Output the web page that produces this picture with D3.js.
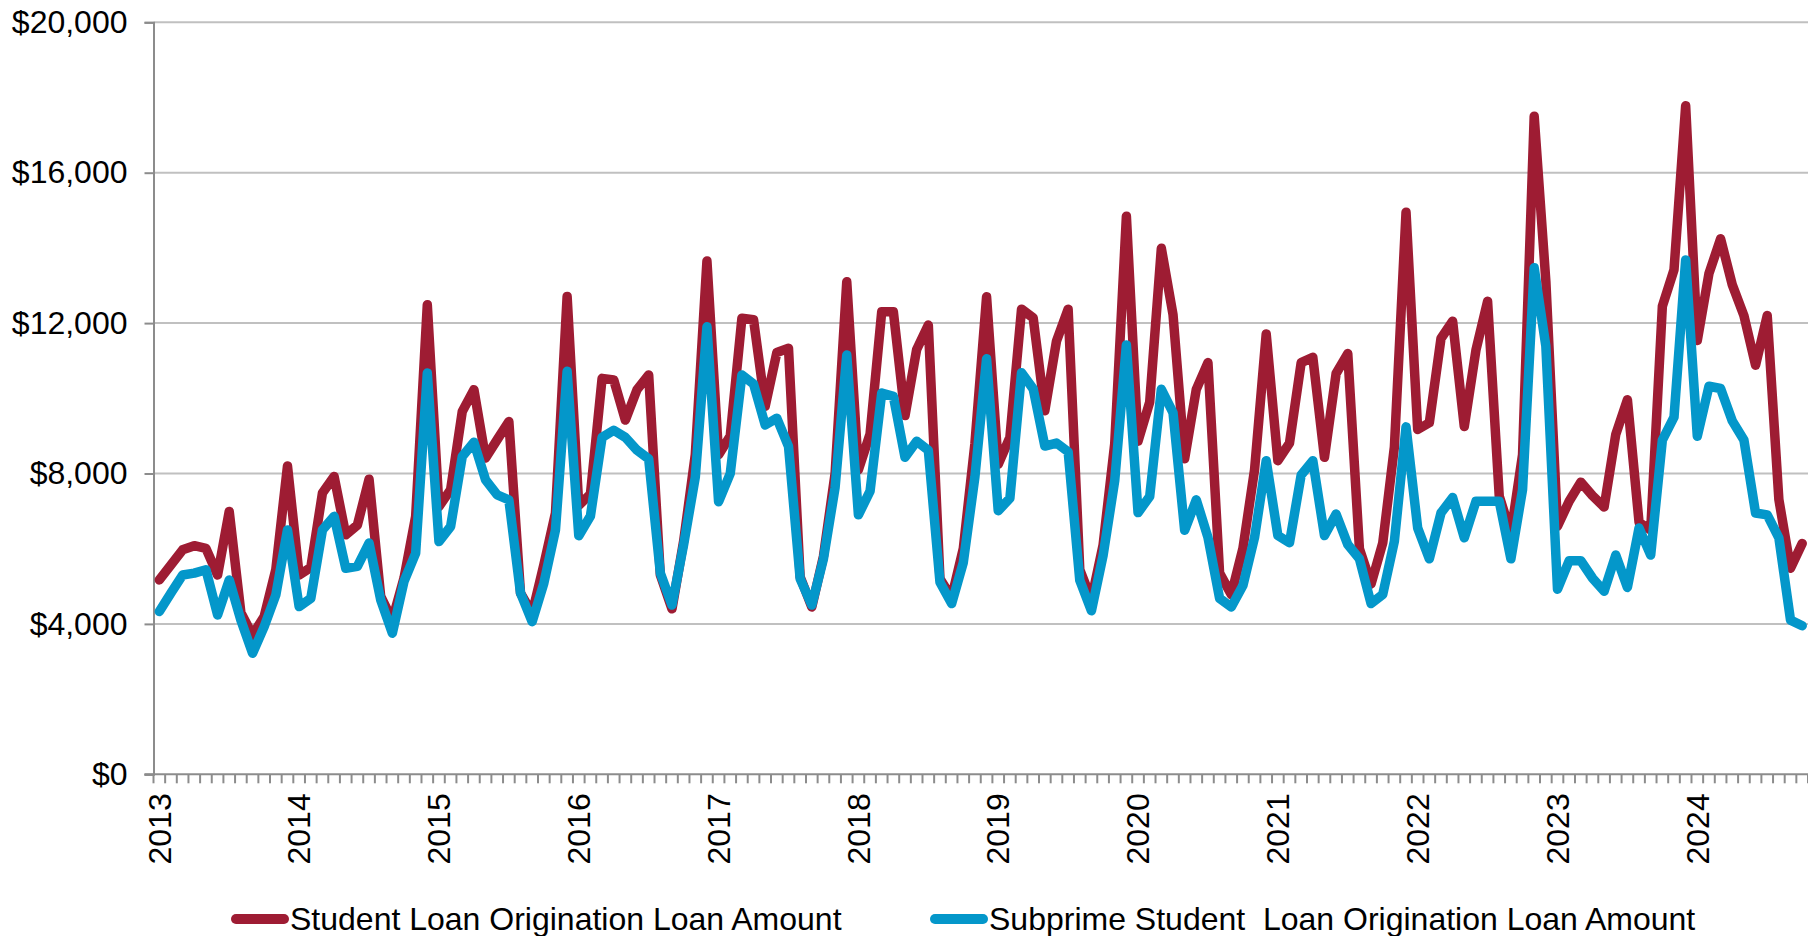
<!DOCTYPE html>
<html>
<head>
<meta charset="utf-8">
<script src="https://cdn.jsdelivr.net/npm/d3@7"></script>
<style>
  html, body { margin: 0; padding: 0; background: #fff; }
  svg { display: block; font-family: "Liberation Sans", Arial, sans-serif; }
</style>
</head>
<body>
<svg id="chart" width="1808" height="936"></svg>
<script>
// Monthly origination amounts, Jan 2013 onward
const seriesNames = [
  "Student Loan Origination Loan Amount",
  "Subprime Student  Loan Origination Loan Amount"
];

const studentLoanAmount = [
  5170, 5570, 5970, 6080, 6010, 5300, 6990, 4300, 3700, 4200, 5450, 8200,       // 2013
  5300, 5500, 7480, 7920, 6370, 6630, 7850, 4730, 4100, 5220, 6860, 12490,      // 2014
  7120, 7570, 9650, 10230, 8410, 8900, 9380, 4820, 4280, 5570, 6950, 12710,     // 2015
  7150, 7450, 10530, 10490, 9420, 10230, 10620, 5300, 4400, 6200, 8500, 13650,  // 2016
  8500, 9000, 12130, 12090, 9790, 11220, 11330, 5250, 4450, 5800, 8000, 13100,  // 2017
  8100, 9050, 12300, 12300, 9540, 11300, 11950, 5200, 4700, 6000, 8800, 12700,  // 2018
  8240, 8960, 12370, 12140, 9670, 11520, 12370, 5440, 4640, 6100, 8800, 14840,  // 2019
  8860, 9900, 13990, 12230, 8390, 10240, 10950, 5350, 4780, 6010, 8100, 11710,  // 2020
  8340, 8810, 10950, 11090, 8430, 10660, 11190, 6000, 5060, 6150, 8700, 14950,  // 2021
  9170, 9350, 11590, 12050, 9250, 11280, 12580, 7400, 6400, 8500, 17500, 13120, // 2022
  6600, 7260, 7770, 7410, 7110, 9040, 9960, 6700, 6500, 12450, 13420, 17780,   // 2023
  11540, 13320, 14240, 13020, 12200, 10880, 12200, 7310, 5480, 6140             // 2024
];

const subprimeLoanAmount = [
  4330, 4820, 5300, 5350, 5440, 4240, 5170, 4100, 3220, 3930, 4770, 6500,       // 2013
  4460, 4680, 6500, 6860, 5480, 5530, 6150, 4640, 3750, 5130, 5880, 10670,      // 2014
  6190, 6590, 8450, 8830, 7830, 7430, 7300, 4820, 4060, 5080, 6500, 10720,      // 2015
  6345, 6870, 8960, 9150, 8960, 8620, 8390, 5350, 4500, 6110, 7900, 11900,      // 2016
  7250, 8000, 10620, 10380, 9290, 9470, 8720, 5200, 4500, 5730, 7630, 11150,    // 2017
  6900, 7530, 10140, 10050, 8430, 8860, 8620, 5110, 4540, 5630, 7910, 11050,    // 2018
  7010, 7340, 10680, 10250, 8730, 8810, 8580, 5160, 4350, 5820, 7810, 11420,    // 2019
  6960, 7390, 10240, 9620, 6490, 7300, 6300, 4680, 4450, 5020, 6300, 8340,      // 2020
  6350, 6160, 7960, 8340, 6350, 6920, 6110, 5730, 4540, 4780, 6200, 9240,       // 2021
  6550, 5730, 6950, 7360, 6290, 7260, 7260, 7260, 5730, 7570, 13470, 11390,     // 2022
  4920, 5680, 5680, 5220, 4870, 5830, 4970, 6550, 5830, 8890, 9500, 13680,      // 2023
  8990, 10320, 10260, 9400, 8890, 6950, 6900, 6290, 4100, 3950                  // 2024
];

const yTickValues = [0, 4000, 8000, 12000, 16000, 20000];
const seriesColors = ["#9E1C33", "#0497CA"];

const firstMonth = new Date(2013, 0, 1);
const months = d3.timeMonth.range(firstMonth, d3.timeMonth.offset(firstMonth, studentLoanAmount.length));

const svg = d3.select("#chart");
const plot = { left: 153.5, right: 1808, top: 22.3, bottom: 774.3 };
const fontSize = 32;
const axisColor = "#8C8C8C";
const gridColor = "#C0C0C0";

const x = d3.scaleBand().domain(months).range([plot.left, plot.right]).paddingInner(0).paddingOuter(0);
const y = d3.scaleLinear().domain([0, 20000]).range([plot.bottom, plot.top]);
const cx = d => x(d) + x.bandwidth() / 2;

// Horizontal gridlines
svg.append("g")
  .selectAll("line")
  .data(yTickValues.filter(v => v > 0))
  .join("line")
  .attr("x1", plot.left).attr("x2", plot.right)
  .attr("y1", d => y(d)).attr("y2", d => y(d))
  .attr("stroke", gridColor).attr("stroke-width", 2);

// Y axis
const yAxis = svg.append("g")
  .attr("transform", `translate(${plot.left},0)`)
  .call(d3.axisLeft(y).tickValues(yTickValues).tickSize(9).tickPadding(17)
    .tickFormat(v => "$" + d3.format(",")(v)));
yAxis.select(".domain").attr("stroke", axisColor).attr("stroke-width", 2);
yAxis.selectAll(".tick line").attr("stroke", axisColor).attr("stroke-width", 2);
yAxis.selectAll(".tick text")
  .attr("font-family", "Liberation Sans, Arial, sans-serif")
  .attr("font-size", fontSize).attr("fill", "#000");

// X axis: monthly tick marks at band edges, year labels on each January
const tickEdges = months.map(m => x(m)).concat([plot.right]);
svg.append("line")
  .attr("x1", plot.left - 9).attr("x2", plot.right)
  .attr("y1", plot.bottom).attr("y2", plot.bottom)
  .attr("stroke", axisColor).attr("stroke-width", 2);
svg.append("g")
  .selectAll("line")
  .data(tickEdges)
  .join("line")
  .attr("x1", d => d).attr("x2", d => d)
  .attr("y1", plot.bottom).attr("y2", plot.bottom + 9)
  .attr("stroke", axisColor).attr("stroke-width", 2);

svg.append("g")
  .selectAll("text")
  .data(months.filter(m => m.getMonth() === 0))
  .join("text")
  .attr("transform", d => `translate(${cx(d)},${plot.bottom + 19}) rotate(-90)`)
  .attr("text-anchor", "end")
  .attr("dy", "0.35em")
  .attr("font-size", fontSize)
  .attr("fill", "#000")
  .text(d => d3.timeFormat("%Y")(d));

// Lines
const line = d3.line()
  .x((d, i) => cx(months[i]))
  .y(d => y(d));

[studentLoanAmount, subprimeLoanAmount].forEach((values, k) => {
  svg.append("path")
    .datum(values)
    .attr("d", line)
    .attr("fill", "none")
    .attr("stroke", seriesColors[k])
    .attr("stroke-width", 9.5)
    .attr("stroke-linejoin", "round")
    .attr("stroke-linecap", "round");
});

// Legend
const legendItems = [
  { name: seriesNames[0], color: seriesColors[0], x: 231 },
  { name: seriesNames[1], color: seriesColors[1], x: 930 }
];
const legend = svg.append("g");
legendItems.forEach(item => {
  legend.append("line")
    .attr("x1", item.x + 5).attr("x2", item.x + 53)
    .attr("y1", 919).attr("y2", 919)
    .attr("stroke", item.color).attr("stroke-width", 10)
    .attr("stroke-linecap", "round");
  legend.append("text")
    .attr("x", item.x + 59).attr("y", 930)
    .attr("font-size", fontSize)
    .attr("fill", "#000")
    .style("white-space", "pre")
    .text(item.name);
});
</script>
</body>
</html>
